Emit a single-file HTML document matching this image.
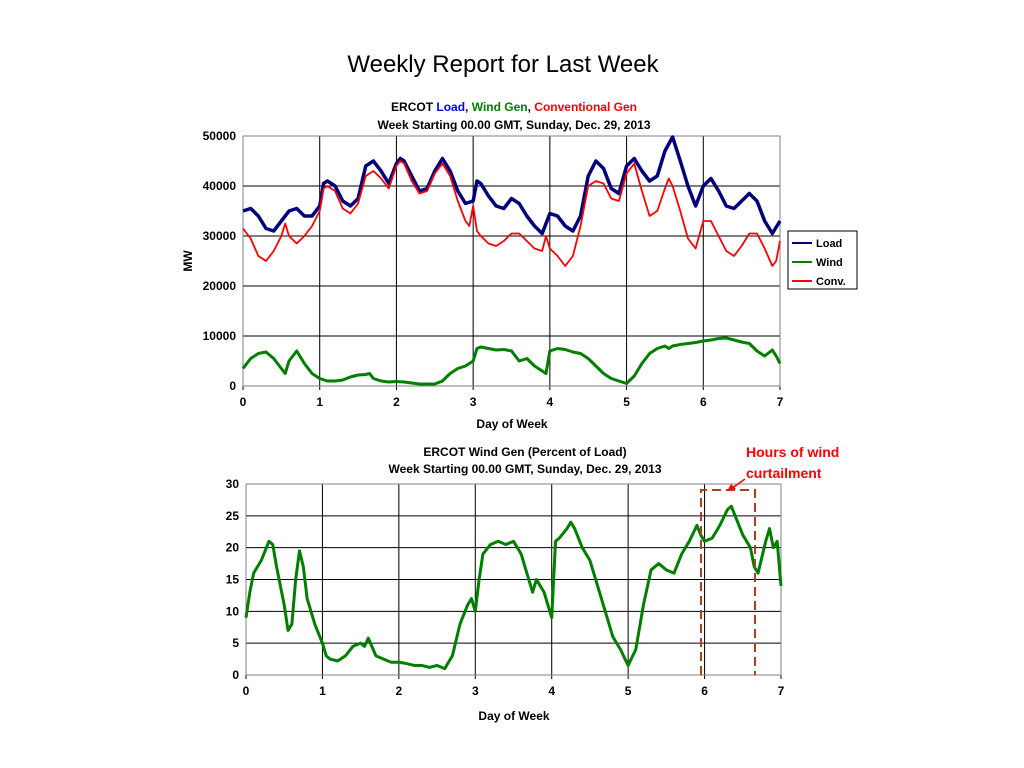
<!DOCTYPE html>
<html><head><meta charset="utf-8"><style>
body{margin:0;background:#fff;width:1024px;height:768px;overflow:hidden}
svg{display:block;font-family:"Liberation Sans",Arial,sans-serif}
</style></head><body>
<svg id="s" width="1024" height="768">
<text x="503" y="72" font-size="24" text-anchor="middle">Weekly Report for Last Week</text>
<g id="topchart"></g>
<g id="botchart"></g>
</svg>
<script>
const loadDays=[0,0.1,0.2,0.3,0.4,0.5,0.6,0.7,0.8,0.9,1.0,1.05,1.1,1.2,1.3,1.4,1.5,1.6,1.7,1.8,1.9,2.0,2.05,2.1,2.2,2.3,2.4,2.5,2.6,2.7,2.8,2.9,3.0,3.05,3.1,3.2,3.3,3.4,3.5,3.6,3.7,3.8,3.9,4.0,4.1,4.2,4.3,4.4,4.5,4.6,4.7,4.8,4.9,5.0,5.1,5.2,5.3,5.4,5.5,5.6,5.7,5.8,5.9,6.0,6.1,6.2,6.3,6.4,6.5,6.6,6.7,6.8,6.9,7.0];
const loadVals=[35,35.5,34,31.5,31,33,35,35.5,34,34,36,40.5,41,40,37,36,37.5,44,45,43,40.5,44.5,45.5,45,42,39,39.5,43,45.5,43,39,36.5,37,41,40.5,38,36,35.5,37.5,36.5,34,32,30.5,34.5,34,32,31,34,42,45,43.5,39.5,38.5,44,45.5,43,41,42,47,49.8,45,40,36,40,41.5,39,36,35.5,37,38.5,37,33,30.5,33];
const convDays=[0,0.1,0.2,0.3,0.4,0.5,0.55,0.6,0.7,0.8,0.9,1.0,1.05,1.1,1.2,1.3,1.4,1.5,1.6,1.7,1.8,1.9,2.0,2.05,2.1,2.2,2.3,2.4,2.5,2.6,2.7,2.8,2.9,2.95,3.0,3.05,3.1,3.2,3.3,3.4,3.5,3.6,3.7,3.8,3.9,3.95,4.0,4.1,4.2,4.3,4.4,4.5,4.6,4.7,4.8,4.9,5.0,5.1,5.2,5.3,5.4,5.5,5.55,5.6,5.7,5.8,5.9,6.0,6.1,6.2,6.3,6.4,6.5,6.6,6.7,6.8,6.9,6.95,7.0];
const convVals=[31.5,29.5,26,25,27,30,32.5,30,28.5,30,32,35,39.5,40,39,35.5,34.5,36.5,42,43,41.5,39.5,44,45,44.5,41,38.5,39,42.5,44.5,42,37,33,32,36,31,30,28.5,28,29,30.5,30.5,29,27.5,27,30,27.5,26,24,26,32,40,41,40.5,37.5,37,42.5,44.5,39,34,35,39.5,41.5,40,35,29.5,27.5,33,33,30,27,26,28,30.5,30.5,27.5,24,25,29];
const windDays=[0,0.1,0.2,0.3,0.4,0.5,0.55,0.6,0.7,0.8,0.9,1.0,1.1,1.2,1.3,1.4,1.5,1.6,1.65,1.7,1.8,1.9,2.0,2.1,2.2,2.3,2.4,2.5,2.6,2.7,2.8,2.9,3.0,3.05,3.1,3.2,3.3,3.4,3.5,3.6,3.7,3.8,3.9,3.95,4.0,4.1,4.2,4.3,4.4,4.5,4.6,4.7,4.8,4.9,5.0,5.1,5.2,5.3,5.4,5.5,5.55,5.6,5.7,5.8,5.9,6.0,6.1,6.2,6.3,6.4,6.5,6.6,6.7,6.8,6.9,6.95,7.0];
const windVals=[3.5,5.5,6.5,6.8,5.5,3.5,2.5,5,7,4.5,2.5,1.5,1,1,1.2,1.8,2.2,2.3,2.5,1.5,1,0.8,0.9,0.8,0.6,0.4,0.4,0.4,1,2.5,3.5,4,5,7.5,7.8,7.5,7.2,7.3,7,5,5.5,4,3,2.5,7,7.5,7.3,6.8,6.5,5.5,4,2.5,1.5,1,0.5,2,4.5,6.5,7.5,8,7.5,8,8.3,8.5,8.7,9,9.2,9.5,9.6,9.2,8.8,8.5,7,6,7.2,6,4.5];
const pctDays=[0,0.05,0.1,0.2,0.3,0.35,0.4,0.5,0.55,0.6,0.65,0.7,0.75,0.8,0.9,1.0,1.05,1.1,1.2,1.3,1.4,1.5,1.55,1.6,1.7,1.8,1.9,2.0,2.1,2.2,2.3,2.4,2.5,2.6,2.7,2.8,2.9,2.95,3.0,3.05,3.1,3.2,3.3,3.4,3.5,3.6,3.7,3.75,3.8,3.9,4.0,4.05,4.1,4.2,4.25,4.3,4.4,4.5,4.6,4.7,4.8,4.9,5.0,5.1,5.2,5.3,5.4,5.5,5.6,5.7,5.8,5.9,5.95,6.0,6.1,6.2,6.3,6.35,6.4,6.5,6.6,6.65,6.7,6.8,6.85,6.9,6.95,7.0];
const pctVals=[9,13,16,18,21,20.5,17,11,7,8,15,19.5,17,12,8,5,3,2.5,2.2,3,4.5,5,4.5,5.8,3,2.5,2,2,1.8,1.5,1.5,1.2,1.5,1,3,8,11,12,10,15,19,20.5,21,20.5,21,19,15,13,15,13,9,21,21.5,23,24,23,20,18,14,10,6,4,1.5,4,11,16.5,17.5,16.5,16,19,21,23.5,22,21,21.5,23.5,26,26.5,25,22,20,17,16,21,23,20,21,14];
const xTicks=[0,1,2,3,4,5,6,7];
const topYTicks=[0,10000,20000,30000,40000,50000];
const botYTicks=[0,5,10,15,20,25,30];
const NS="http://www.w3.org/2000/svg";
function mk(p,t,a,name,txt){const e=document.createElementNS(NS,t);for(const k in a)e.setAttribute(k,a[k]);


if(txt!==undefined)e.textContent=txt;p.appendChild(e);return e;}
function axes(g,L,R,T,B,ymax,yt,pre){
 const fx=d=>L+d/7*(R-L), fy=v=>B-v/ymax*(B-T);
 yt.forEach(v=>{mk(g,'line',{x1:L,x2:R,y1:fy(v),y2:fy(v),stroke:'#000','stroke-width':1},pre+'h-grid');
  mk(g,'text',{x:L-7,y:fy(v)+4,'font-size':12,'font-weight':'bold','text-anchor':'end'},pre+'y-tick-label',String(v));});
 xTicks.forEach(d=>{mk(g,'line',{x1:fx(d),x2:fx(d),y1:T,y2:B+4,stroke:'#000','stroke-width':1},pre+'v-grid');
  mk(g,'text',{x:fx(d),y:B+20,'font-size':12,'font-weight':'bold','text-anchor':'middle'},pre+'x-tick-label',String(d));});
 mk(g,'rect',{x:L,y:T,width:R-L,height:B-T,fill:'none',stroke:'#808080','stroke-width':1},pre+'plot-frame');
 return [fx,fy];}
function line(g,fx,fy,ds,vs,col,w,name,scale){
 mk(g,'polyline',{points:ds.map((d,i)=>fx(d)+','+fy(vs[i]*scale)).join(' '),fill:'none',stroke:col,'stroke-width':w,'stroke-linejoin':'round'},name);}
// top
const topG=document.getElementById('topchart');
const ta=axes(topG,243,780,136,386,50000,topYTicks,'top-');
line(topG,ta[0],ta[1],loadDays,loadVals,'#00007f',3.5,'load-line',1000);
line(topG,ta[0],ta[1],convDays,convVals,'#ff0000',1.8,'conv-line',1000);
line(topG,ta[0],ta[1],windDays,windVals,'#007f00',3,'wind-line',1000);
const t1=mk(topG,'text',{x:514,y:111,'font-size':12,'font-weight':'bold','text-anchor':'middle'},'top-chart-title');
[['ERCOT ','#000'],['Load','#0000ff'],[', ','#000'],['Wind Gen','#008000'],[', ','#000'],['Conventional Gen','#ff0000']].forEach(([s,c])=>{
 mk(t1,'tspan',{fill:c},'title-part',s);});
mk(topG,'text',{x:514,y:129,'font-size':12,'font-weight':'bold','text-anchor':'middle'},'top-chart-subtitle','Week Starting 00.00 GMT, Sunday, Dec. 29, 2013');
mk(topG,'text',{x:512,y:428,'font-size':12,'font-weight':'bold','text-anchor':'middle'},'top-x-axis-title','Day of Week');
mk(topG,'text',{x:0,y:0,'font-size':12,'font-weight':'bold','text-anchor':'middle',transform:'translate(192,261) rotate(-90)'},'top-y-axis-title','MW');
const lg=mk(topG,'g',{},'legend');
mk(lg,'rect',{x:788,y:231,width:69,height:58,fill:'#fff',stroke:'#000'},'legend-box');
[['Load','#00007f',243],['Wind','#007f00',262],['Conv.','#ff0000',281]].forEach(([n,c,y])=>{
 mk(lg,'line',{x1:792,x2:812,y1:y,y2:y,stroke:c,'stroke-width':2},'legend-swatch-'+n.toLowerCase().replace('.',''));
 mk(lg,'text',{x:816,y:y+4,'font-size':11,'font-weight':'bold'},'legend-entry-'+n.toLowerCase().replace('.',''),n);});
// bottom
const botG=document.getElementById('botchart');
const ba=axes(botG,246,781,484,675,30,botYTicks,'bot-');
line(botG,ba[0],ba[1],pctDays,pctVals,'#007f00',3,'wind-pct-line',1);
mk(botG,'text',{x:525,y:456,'font-size':12,'font-weight':'bold','text-anchor':'middle'},'bottom-chart-title','ERCOT Wind Gen (Percent of Load)');
mk(botG,'text',{x:525,y:473,'font-size':12,'font-weight':'bold','text-anchor':'middle'},'bottom-chart-subtitle','Week Starting 00.00 GMT, Sunday, Dec. 29, 2013');
mk(botG,'text',{x:514,y:720,'font-size':12,'font-weight':'bold','text-anchor':'middle'},'bottom-x-axis-title','Day of Week');
mk(botG,'polyline',{points:'701,675 701,490 755,490 755,675',fill:'none',stroke:'#b0401a','stroke-width':2,'stroke-dasharray':'9,5'},'curtailment-box');
mk(botG,'line',{x1:745,y1:479,x2:731,y2:489,stroke:'#ff0000','stroke-width':1.5},'annotation-arrow');
mk(botG,'polygon',{points:'727,491 736,489 731,484',fill:'#ff0000'},'annotation-arrowhead');
mk(botG,'text',{x:746,y:457,'font-size':14,'font-weight':'bold',fill:'#ff0000'},'annotation-line1','Hours of wind');
mk(botG,'text',{x:746,y:478,'font-size':14,'font-weight':'bold',fill:'#ff0000'},'annotation-line2','curtailment');
</script>
</body></html>
